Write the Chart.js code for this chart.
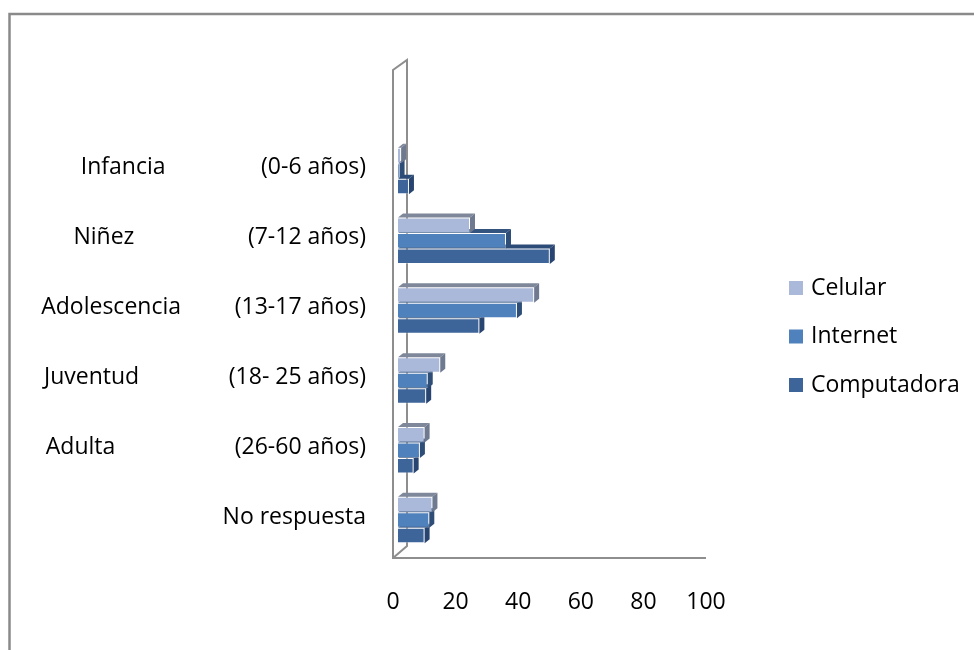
<!DOCTYPE html>
<html>
<head>
<meta charset="utf-8">
<title>Uso por edad</title>
<script src="https://cdn.jsdelivr.net/npm/chart.js@4"></script>
<style>
  html, body { margin: 0; padding: 0; background: #fff; }
  #wrap { position: relative; width: 974px; height: 650px; }
</style>
</head>
<body>
<div id="wrap"><canvas id="chart" width="974" height="650"></canvas></div>
<script>
// category labels, as typed in the sheet (spaces included)
const categories = [
  'Infancia                (0-6 años)',
  'Niñez                   (7-12 años)',
  'Adolescencia         (13-17 años)',
  'Juventud               (18- 25 años)',
  'Adulta                    (26-60 años)',
  'No respuesta'
];
const seriesNames = ['Celular', 'Internet', 'Computadora'];
const celular = [1, 23, 43.5, 13.5, 8.5, 11];
const internet = [0.5, 34.5, 38, 9.5, 7, 10];
const computadora = [3.5, 48.5, 26, 9, 5, 8.5];
const xTicks = [0, 20, 40, 60, 80, 100];

const FONT = { family: '"Open Sans", sans-serif', size: 23 };
const front = ['#AAB9D9', '#4F81BD', '#3E659A'];
const topFace = ['#7F889A', '#33547F', '#2C4B76'];
const sideFace = ['#6F7A90', '#2E4D77', '#284470'];
const DX = 5, DY = 4;

// border of the chart frame + 3D wall and floor
const framePlugin = {
  id: 'frame',
  beforeDatasetsDraw(chart) {
    const { ctx, chartArea: a } = chart;
    ctx.save();
    ctx.strokeStyle = '#8A8A8A';
    ctx.lineWidth = 2.5;
    ctx.beginPath();
    ctx.moveTo(9.5, 650);
    ctx.lineTo(9.5, 14);
    ctx.lineTo(974, 14);
    ctx.stroke();

    ctx.strokeStyle = '#8E8E8E';
    ctx.lineWidth = 2;
    const floor = a.bottom + 6;
    ctx.beginPath();
    ctx.moveTo(a.right, floor);
    ctx.lineTo(a.left, floor);
    ctx.lineTo(a.left, a.top - 63);
    ctx.lineTo(a.left + 14, a.top - 73);
    ctx.lineTo(a.left + 14, floor - 12);
    ctx.lineTo(a.left, floor);
    ctx.stroke();
    ctx.restore();

    // bars sit a little behind the front plane
    ctx.save();
    ctx.translate(DX, 3);
  },
  afterDatasetDraw(chart, args) {
    const ctx = chart.ctx;
    const i = args.index;
    args.meta.data.forEach(el => {
      const p = el.getProps(['x', 'y', 'base', 'height'], true);
      const l = Math.min(p.x, p.base), r = Math.max(p.x, p.base);
      const t = p.y - p.height / 2, b = p.y + p.height / 2;
      ctx.fillStyle = topFace[i];
      ctx.beginPath();
      ctx.moveTo(l, t);
      ctx.lineTo(l + DX, t - DY);
      ctx.lineTo(r + DX, t - DY);
      ctx.lineTo(r, t);
      ctx.closePath();
      ctx.fill();
      ctx.fillStyle = sideFace[i];
      ctx.beginPath();
      ctx.moveTo(r, t);
      ctx.lineTo(r + DX, t - DY);
      ctx.lineTo(r + DX, b - DY);
      ctx.lineTo(r, b);
      ctx.closePath();
      ctx.fill();
    });
  },
  afterDatasetsDraw(chart) {
    chart.ctx.restore();
  },
  afterDraw(chart) {
    // legend on the right
    const ctx = chart.ctx;
    ctx.save();
    ctx.font = `${FONT.size}px ${FONT.family}`;
    ctx.textBaseline = 'middle';
    chart.data.datasets.forEach((ds, i) => {
      const y = 288 + i * 48.5;
      ctx.fillStyle = front[i];
      ctx.fillRect(789, y - 7, 14, 14);
      ctx.fillStyle = '#000';
      ctx.fillText(ds.label, 811, y);
    });
    ctx.restore();
  }
};

const datasets = [celular, internet, computadora].map((vals, i) => ({
  label: seriesNames[i],
  data: vals,
  backgroundColor: front[i],
  borderColor: 'rgba(255,255,255,0.35)',
  borderWidth: 1,
  categoryPercentage: 0.666,
  barPercentage: 1,
  clip: false
}));

new Chart(document.getElementById('chart'), {
  type: 'bar',
  data: { labels: categories, datasets },
  options: {
    indexAxis: 'y',
    responsive: false,
    devicePixelRatio: 1,
    animation: false,
    layout: { padding: { top: 133, right: 268, bottom: 0, left: 0 } },
    plugins: { legend: { display: false }, tooltip: { enabled: false } },
    scales: {
      x: {
        min: xTicks[0],
        max: xTicks[xTicks.length - 1],
        afterBuildTicks(s) { s.ticks = xTicks.map(v => ({ value: v })); },
        afterFit(s) { s.height = 98; },
        ticks: { font: FONT, color: '#000', padding: 37, maxRotation: 0 },
        grid: { display: false, drawTicks: false },
        border: { display: false }
      },
      y: {
        afterFit(s) { s.width = 393; },
        ticks: { font: FONT, color: '#000', padding: 27, autoSkip: false },
        grid: { display: false, drawTicks: false },
        border: { display: false }
      }
    }
  },
  plugins: [framePlugin]
});
</script>
</body>
</html>
